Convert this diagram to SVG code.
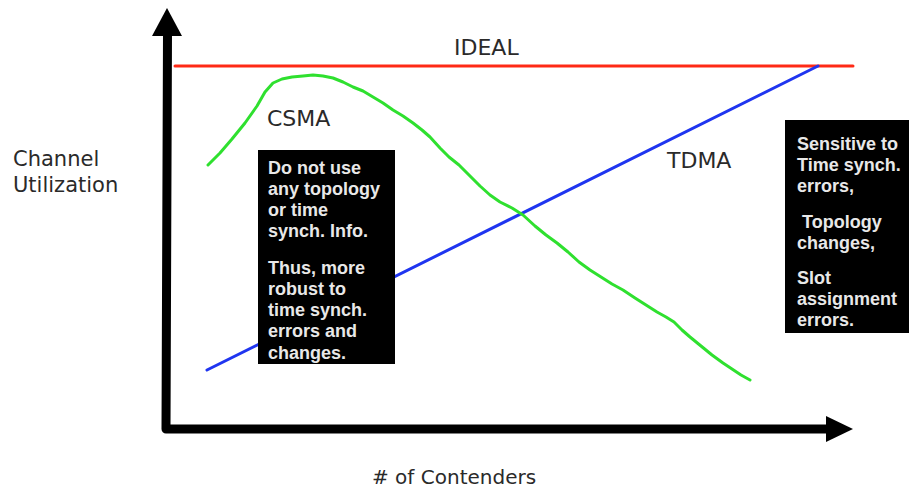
<svg xmlns="http://www.w3.org/2000/svg" width="909" height="491" viewBox="0 0 909 491">
<style>
.lbl{font-family:"DejaVu Sans",Verdana,sans-serif;fill:#2a2a2a}
.box{fill:#000}
.bt{font-family:"Liberation Sans",Arial,sans-serif;font-size:18px;font-weight:bold;fill:#e8e8e8}
.axis{fill:none;stroke:#000;stroke-width:9;stroke-linejoin:round}
.head{fill:#000}
.curve{fill:none;stroke-width:3;stroke-linecap:round;stroke-linejoin:round}
</style>
<defs>
  <clipPath id="clip1"><rect x="258" y="150" width="137" height="214"/></clipPath>
</defs>
<rect width="909" height="491" fill="#fff"/>
<g id="axes">
  <path class="axis" d="M167.5,34 L166,429 L829,429"/>
  <polygon class="head" points="167,8 152,36 182,36"/>
  <polygon class="head" points="853,429 826,416 826,442"/>
</g>
<g id="connectors">
  <line id="ideal-line" class="curve" x1="175" y1="66" x2="853" y2="66" stroke="#ff2a16"/>
  <line id="tdma-line" class="curve" x1="207" y1="370" x2="818" y2="66" stroke="#1f35f0"/>
  <polyline id="csma-line" class="curve" stroke="#2fe02f" points="208,165 220,153 232,139 245,123 257,106 265,92 273,83 282,79 292,77 303,76 313,75 323,76 333,78 343,82 353,87 363,91 373,97 383,103 393,110 403,116 413,123 422,130 430,137 440,148 449,157 459,165 470,176 480,186 490,195 500,202 512,208 523,215 535,226 546,235 557,243 568,252 579,262 590,270 601,277 612,284 623,290 635,298 646,305 657,312 666,317 674,322 682,330 690,337 701,346 712,355 723,363 732,369 741,375 750,380"/>
</g>
<g id="label-ideal"><text class="lbl" x="454" y="55" font-size="22">IDEAL</text></g>
<g id="label-csma"><text class="lbl" x="267" y="126" font-size="22">CSMA</text></g>
<g id="label-tdma"><text class="lbl" x="667" y="168" font-size="22">TDMA</text></g>
<g id="label-y"><text class="lbl" x="13" y="166" font-size="21">Channel</text><text class="lbl" x="13" y="192" font-size="21">Utilization</text></g>
<g id="label-x"><text class="lbl" x="372" y="484" font-size="20"># of Contenders</text></g>
<g id="note-csma">
  <rect class="box" x="258" y="150" width="137" height="214"/>
  <g clip-path="url(#clip1)">
  <text class="bt" x="268" y="174">Do not use</text>
  <text class="bt" x="268" y="195">any topology</text>
  <text class="bt" x="268" y="216">or time</text>
  <text class="bt" x="268" y="237">synch. Info.</text>
  <text class="bt" x="268" y="274">Thus, more</text>
  <text class="bt" x="268" y="295">robust to</text>
  <text class="bt" x="268" y="316">time synch.</text>
  <text class="bt" x="268" y="337">errors and</text>
  <text class="bt" x="268" y="359">changes.</text>
  </g>
</g>
<g id="note-tdma">
  <rect class="box" x="785" y="120" width="124" height="213"/>
  <text class="bt" x="797" y="150">Sensitive to</text>
  <text class="bt" x="797" y="171">Time synch.</text>
  <text class="bt" x="797" y="192">errors,</text>
  <text class="bt" x="797" y="228" style="white-space:pre"> Topology</text>
  <text class="bt" x="797" y="249">changes,</text>
  <text class="bt" x="797" y="284">Slot</text>
  <text class="bt" x="797" y="305">assignment</text>
  <text class="bt" x="797" y="326">errors.</text>
</g>
</svg>
